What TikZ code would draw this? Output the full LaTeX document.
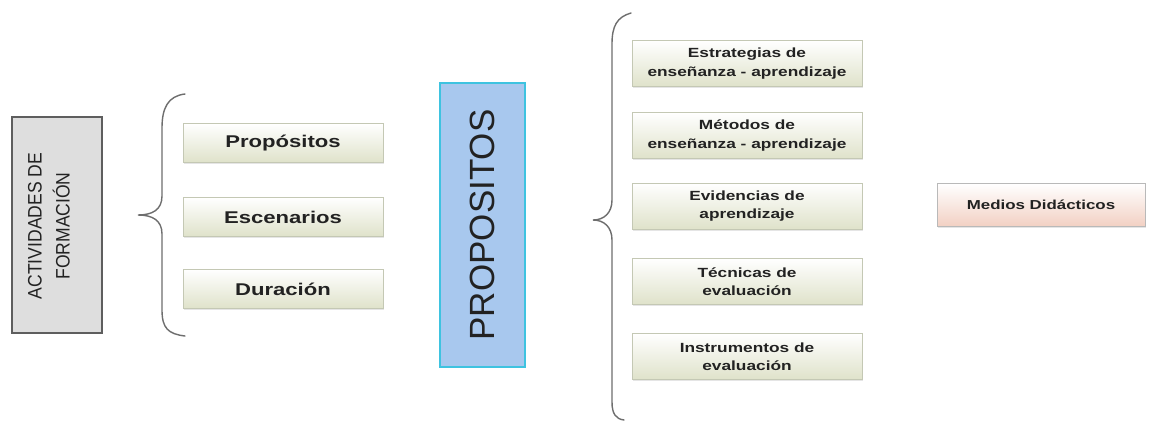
\documentclass[tikz,border=0pt]{standalone}
\usepackage{fontspec}
\setmainfont{Liberation Sans}
\newfontfamily\widebf{Liberation Sans}[FakeStretch=1.3]
\newfontfamily\narrowsf{Liberation Sans}[FakeStretch=0.9]
\usetikzlibrary{shadows}
\definecolor{boxgreen}{HTML}{DFE2CA}
\definecolor{boxedge}{HTML}{C4C8B4}
\definecolor{boxpink}{HTML}{F2D0C3}
\definecolor{actfill}{HTML}{DEDEDE}
\definecolor{actedge}{HTML}{5E5E5E}
\definecolor{propfill}{HTML}{A8C8EE}
\definecolor{propedge}{HTML}{3EC3E0}
\definecolor{bracegray}{HTML}{6E6E6E}
\definecolor{txt}{HTML}{222222}
\tikzset{
  greenbox/.style={draw=boxedge, line width=0.8bp, top color=white, bottom color=boxgreen,
    inner sep=0pt, text=txt, align=center,
    drop shadow={opacity=0.2, shadow xshift=1.2bp, shadow yshift=-1.5bp}},
  bigitem/.style={greenbox, minimum width=200bp, minimum height=39bp,
    font={\widebf\bfseries\fontsize{17bp}{20bp}\selectfont}},
  smallitem/.style={greenbox, minimum width=230bp, minimum height=46bp,
    font={\widebf\bfseries\fontsize{13.3bp}{18.5bp}\selectfont}},
  brace/.style={draw=bracegray, line width=1.4bp, line cap=round}
}
\begin{document}
\begin{tikzpicture}[x=1bp,y=-1bp]
\useasboundingbox (0,0) rectangle (1157,423);
\fill[white] (0,0) rectangle (1157,423);

% Left title block and its label
\node[draw=actedge, line width=1.5bp, fill=actfill, inner sep=0pt,
  minimum width=90bp, minimum height=216bp] (act) at (57,225) {};
\node[rotate=90, inner sep=0pt, align=center, text=txt,
  font={\narrowsf\fontsize{19.5bp}{28bp}\selectfont}]
  (actlabel) at (49,226) {ACTIVIDADES DE\\FORMACIÓN};

% Left brace
\draw[brace] (185,94) .. controls (168,96) and (162,108) .. (162,128)
  -- (162,196) .. controls (162,210) and (152,215) .. (138,215)
  .. controls (152,215) and (162,220) .. (162,234)
  -- (162,310) .. controls (162,328) and (168,334) .. (185,336);

% Left items
\node[bigitem] (prop) at (283,143) {Propósitos};
\node[bigitem] (esc)  at (283,217) {Escenarios};
\node[bigitem] (dur)  at (283,289) {Duración};

% Central block
\node[rotate=90, draw=propedge, line width=1.5bp, fill=propfill, inner sep=0pt,
  minimum width=284bp, minimum height=85bp, text=txt,
  font={\fontsize{35bp}{40bp}\selectfont}]
  (central) at (482.5,225) {PROPOSITOS};

% Right brace
\draw[brace] (631,13) .. controls (617,17) and (612,26) .. (612,44)
  -- (612,200) .. controls (612,213) and (604,220) .. (593,220)
  .. controls (604,220) and (612,227) .. (612,240)
  -- (612,402) .. controls (612,414) and (616,419) .. (624,420);

% Right items
\node[smallitem] (estr) at (747,63.5)  {Estrategias de\\enseñanza - aprendizaje};
\node[smallitem] (met)  at (747,135.5) {Métodos de\\enseñanza - aprendizaje};
\node[smallitem] (evi)  at (747,206)   {Evidencias de\\aprendizaje};
\node[smallitem] (tec)  at (747,281.5) {Técnicas de\\evaluación};
\node[smallitem] (ins)  at (747,356.5) {Instrumentos de\\evaluación};

% Far right item
\node[greenbox, bottom color=boxpink, draw=gray!55, minimum width=208bp, minimum height=43bp,
  font={\widebf\bfseries\fontsize{13bp}{16bp}\selectfont}]
  (medios) at (1041,205) {Medios Didácticos};
\end{tikzpicture}
\end{document}
